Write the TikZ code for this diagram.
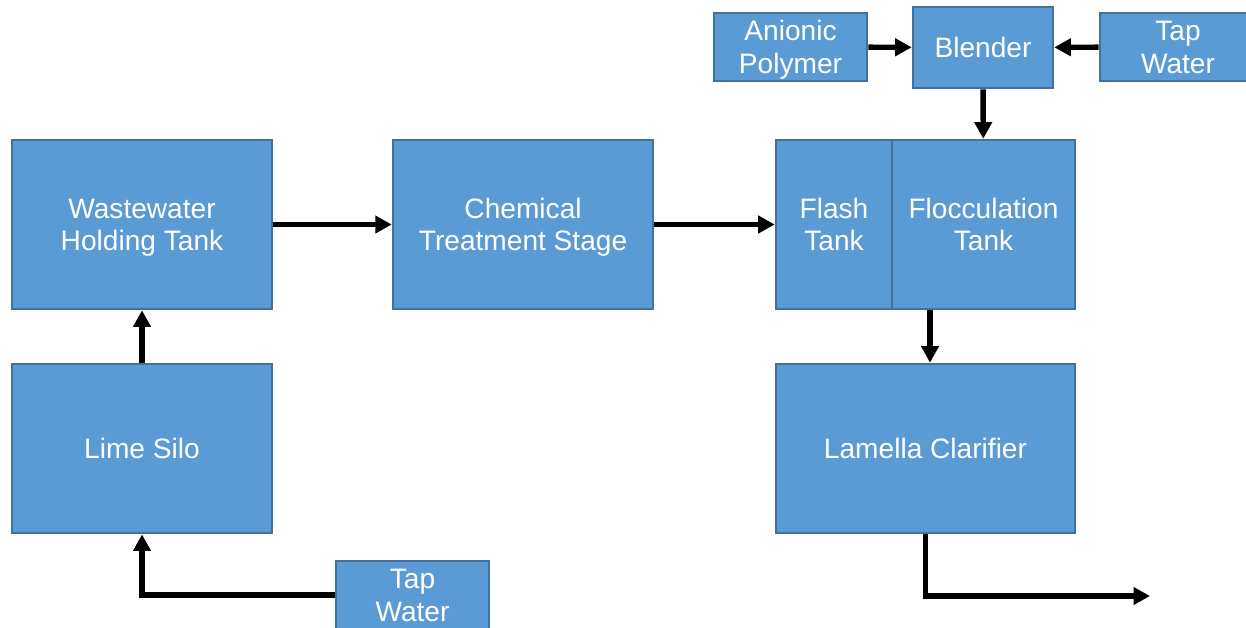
\documentclass[tikz,border=0pt]{standalone}
\usepackage{fontspec}
\setmainfont{Liberation Sans}
\usepackage{xcolor}
\usepackage{tikz}
\usetikzlibrary{positioning,arrows.meta}

\definecolor{boxfill}{HTML}{5B9BD5}
\definecolor{boxline}{HTML}{41719C}
% struts so that two-line labels sit the same way in every box
\newcommand{\topstrut}{\rule{0pt}{14.8pt}}
\newcommand{\botstrut}{\rule[-3.5pt]{0pt}{3.5pt}}

\begin{document}
\begin{tikzpicture}[
        x=0.02cm, y=-0.02cm,
        every node/.style={rectangle, draw=boxline, fill=boxfill, line width=1.5pt, text=white, align=center, font=\fontsize{16}{18.5}\selectfont},
        tank/.style={minimum width=5.2cm, minimum height=3.38cm},
        feed/.style={minimum width=3.06cm, minimum height=1.36cm, inner ysep=0pt},
        flow/.style={-{Triangle[length=0.33cm, width=0.34cm]}, line width=3.1pt}
    ]
        \useasboundingbox (0,0) rectangle (1246,627);

        \node[tank] (waste) at (142,224.5) {\topstrut Wastewater\\Holding Tank\botstrut};
        \node[tank, right=2.37cm of waste] (chem) {\topstrut Chemical\\Treatment Stage\botstrut};
        \node[tank, below=1.05cm of waste] (lime) {Lime Silo};
        \node[tank, minimum width=2.32cm] (flash) at (834,224.5) {\topstrut Flash\\Tank\botstrut};
        \node[tank, minimum width=3.66cm] (floc) at (983.5,224.5) {\topstrut Flocculation\\Tank\botstrut};
        \node[tank, minimum width=5.98cm] (lamella) at (925.5,448.5) {Lamella Clarifier};

        \node[feed, minimum width=2.8cm, minimum height=1.62cm] (blender) at (983,47.5) {Blender};
        \node[feed] (polymer) at (790.5,47) {\topstrut Anionic\\Polymer\botstrut};
        \node[feed, minimum width=3.12cm] (tapA) at (1178,47) {\topstrut Tap\\Water\botstrut};
        \node[feed] (tapB) at (412.5,595) {\topstrut Tap\\Water\botstrut};

        \coordinate (out) at (1150,596);

        \draw[flow] (lime) -- (waste);
        \draw[flow] (tapB.west) -| (lime.south);
        \draw[flow] (waste) -- (chem);
        \draw[flow] (chem) -- (flash);
        \draw[flow] (polymer) -- (blender);
        \draw[flow] (tapA) -- (blender);
        \draw[flow] (blender) -- (floc);
        \draw[flow] ([xshift=0.09cm]lamella.north |- floc.south) -- ([xshift=0.09cm]lamella.north);
        \draw[flow] (lamella.south) |- (out);
    \end{tikzpicture}
\end{document}
